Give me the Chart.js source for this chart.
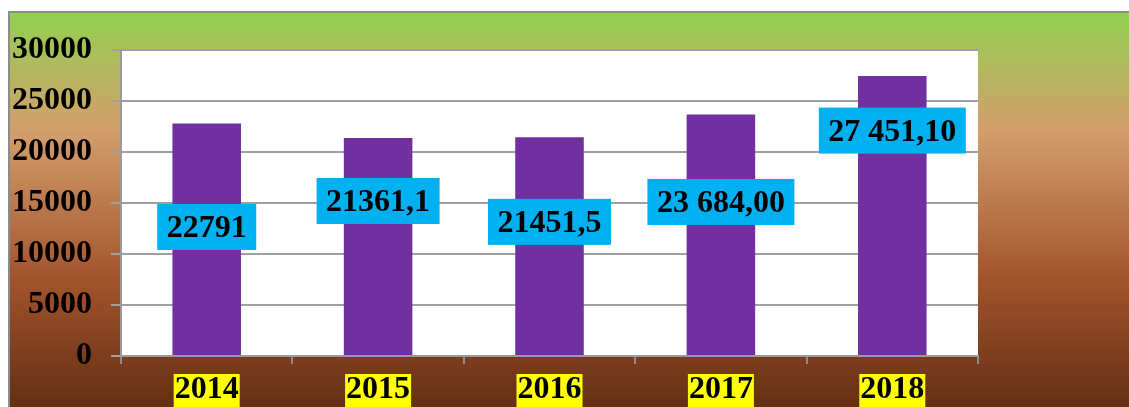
<!DOCTYPE html>
<html>
<head>
<meta charset="utf-8">
<script src="https://cdn.jsdelivr.net/npm/chart.js@4"></script>
<style>
  body { margin: 0; background: #fff; }
  canvas { display: block; }
</style>
</head>
<body>
<canvas id="chart" width="1129" height="407"></canvas>
<script>
const years = ['2014', '2015', '2016', '2017', '2018'];
const values = [22791, 21361.1, 21451.5, 23684, 27451.1];
const valueLabels = ['22791', '21361,1', '21451,5', '23 684,00', '27 451,10'];
// where each label box sits, in axis units
const labelAnchors = [12650, 15200, 13150, 15100, 22100];
const yTicks = [0, 5000, 10000, 15000, 20000, 25000, 30000];

const serif = '"Liberation Serif", "Times New Roman", serif';

const backdrop = {
  id: 'backdrop',
  beforeDraw(chart) {
    const { ctx, width, height, chartArea } = chart;
    ctx.save();
    ctx.fillStyle = '#fff';
    ctx.fillRect(0, 0, width, height);
    const g = ctx.createLinearGradient(0, 12, 0, height);
    g.addColorStop(0, '#92d050');
    g.addColorStop(0.3, '#d49e6c');
    g.addColorStop(0.68, '#a2532c');
    g.addColorStop(1, '#642f14');
    ctx.fillStyle = g;
    ctx.fillRect(9, 12, width - 9, height - 12);
    ctx.strokeStyle = '#8c8c8c';
    ctx.lineWidth = 2;
    ctx.beginPath();
    ctx.moveTo(9, height);
    ctx.lineTo(9, 12);
    ctx.lineTo(width, 12);
    ctx.stroke();
    ctx.fillStyle = '#fff';
    ctx.fillRect(chartArea.left, chartArea.top, chartArea.width, chartArea.height);
    ctx.restore();
  }
};

const boxLabels = {
  id: 'boxLabels',
  afterDatasetsDraw(chart) {
    const { ctx } = chart;
    const meta = chart.getDatasetMeta(0);
    const yScale = chart.scales.y;
    ctx.save();
    ctx.font = 'bold 32px ' + serif;
    ctx.textAlign = 'center';
    ctx.textBaseline = 'middle';
    meta.data.forEach((bar, i) => {
      const cx = bar.x;
      const cy = yScale.getPixelForValue(labelAnchors[i]);
      const w = ctx.measureText(valueLabels[i]).width + 19;
      const h = 46;
      ctx.fillStyle = '#00b0f0';
      ctx.fillRect(cx - w / 2, cy - h / 2, w, h);
      ctx.fillStyle = '#000';
      ctx.fillText(valueLabels[i], cx, cy + 2);
    });
    ctx.restore();
  }
};

new Chart(document.getElementById('chart'), {
  type: 'bar',
  data: {
    labels: years,
    datasets: [{
      data: values,
      backgroundColor: '#7030a0',
      borderWidth: 0,
      barPercentage: 0.4,
      categoryPercentage: 1
    }]
  },
  options: {
    responsive: false,
    animation: false,
    layout: { padding: { left: 0, top: 50, right: 151, bottom: 0 } },
    plugins: {
      legend: { display: false },
      tooltip: { enabled: false }
    },
    scales: {
      x: {
        afterFit(scale) { scale.height = 51; },
        grid: {
          display: true,
          drawOnChartArea: false,
          offset: true,
          tickLength: 8,
          color: '#8c8c8c',
          lineWidth: 2
        },
        border: { color: '#9a9a9a', width: 2 },
        ticks: {
          color: '#000',
          padding: 10,
          font: { family: serif, size: 32, weight: 'bold', lineHeight: 1 },
          showLabelBackdrop: true,
          backdropColor: '#ffff00',
          backdropPadding: { top: 0, bottom: 2, left: 1, right: 1 }
        }
      },
      y: {
        min: 0,
        max: 30000,
        afterFit(scale) { scale.width = 121; },
        afterBuildTicks(scale) { scale.ticks = yTicks.map(v => ({ value: v })); },
        grid: {
          color: '#a0a0a0',
          lineWidth: 2,
          tickLength: 10
        },
        border: { color: '#9a9a9a', width: 2 },
        ticks: {
          color: '#000',
          padding: 19,
          font: { family: serif, size: 32, weight: 'bold' },
          callback: v => String(v)
        }
      }
    }
  },
  plugins: [backdrop, boxLabels]
});
</script>
</body>
</html>
